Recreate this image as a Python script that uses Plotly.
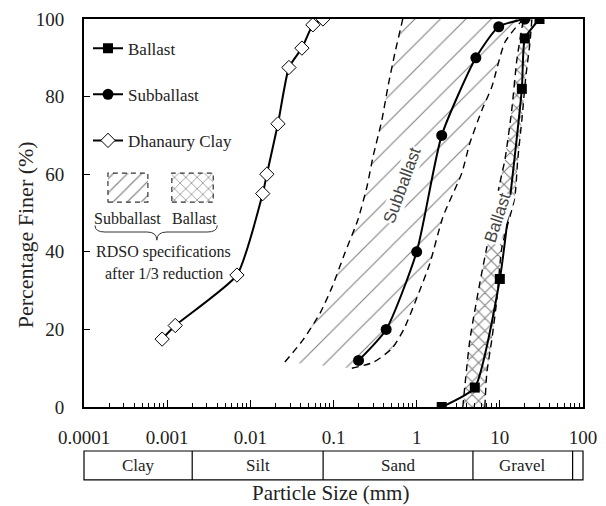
import numpy as np
import plotly.graph_objects as go

# ---------------- data ----------------
ballast_size = [2.0, 5.0, 10.0, 18.4, 20.0, 30.0]
ballast_finer = [0, 5, 33, 82, 95, 100]

subballast_size = [0.2, 0.43, 1.0, 2.0, 5.15, 9.7, 20.0]
subballast_finer = [12, 20, 40, 70, 90, 98, 100]

clay_size = [0.00087, 0.00125, 0.0069, 0.0141, 0.0158, 0.0215, 0.0291, 0.0417, 0.0565, 0.0747]
clay_finer = [17.5, 21, 34, 55, 60, 73, 87.5, 92.5, 98.5, 100]

# RDSO subballast band (after 1/3 reduction)
sub_fine_size = [0.026, 0.043, 0.069, 0.096, 0.137, 0.196, 0.252, 0.298, 0.382, 0.451, 0.547, 0.664, 0.68]
sub_fine_finer = [11.6, 17.3, 24.2, 30.9, 39.7, 48.2, 56.7, 64.4, 74, 82.5, 91.2, 99, 100]
sub_coarse_size = [0.166, 0.3, 0.5, 0.7, 1.0, 1.44, 2.07, 3.49, 4.36, 6.08, 8.0, 11.5, 17.4, 20.0]
sub_coarse_finer = [10, 11.5, 15, 20, 28, 37, 49, 60.3, 68, 76.5, 82.5, 94, 99, 100]

# RDSO ballast band (after 1/3 reduction)
bal_fine_size = [3.59, 3.79, 4.36, 5.75, 6.98, 10.0, 11.5, 13.9, 16.0, 18.9, 19.5]
bal_fine_finer = [0, 5.2, 17.3, 32, 41.2, 57.7, 63.7, 76.5, 89.4, 99, 100]
bal_coarse_size = [6.6, 6.98, 8.0, 9.2, 10.6, 15.1, 16.4, 18.4, 20.5, 23.0, 24.3]
bal_coarse_finer = [0, 8.8, 17.3, 27.6, 41.2, 54, 63.7, 74, 85, 93.8, 100]

tick_vals = [0.0001, 0.001, 0.01, 0.1, 1, 10, 100]
tick_text = ["0.0001", "0.001", "0.01", "0.1", "1", "10", "100"]
y_ticks = [0, 20, 40, 60, 80, 100]

class_names = ["Clay", "Silt", "Sand", "Gravel"]
class_bounds = [0.0001, 0.002, 0.075, 4.75, 75, 100]

SERIF = "Liberation Serif, Times New Roman, serif"
SANS = "Liberation Sans, Arial, sans-serif"


def xpaper(v):
    return (np.log10(v) + 4.0) / 6.0


def note(text, x, y, size, family=SERIF, color="#222", angle=0, yanchor="middle", bg=None):
    d = dict(text=text, xref="paper", yref="paper", x=x, y=y, xanchor="center", yanchor=yanchor,
             textangle=angle, showarrow=False, font=dict(family=family, size=size, color=color))
    if bg:
        d["bgcolor"] = bg
        d["borderpad"] = 0
    return d


fig = go.Figure()

# hatched bands
fig.add_trace(go.Scatter(
    x=sub_fine_size + sub_coarse_size[::-1], y=sub_fine_finer + sub_coarse_finer[::-1],
    mode="lines", fill="toself", line=dict(width=0, color="rgba(0,0,0,0)"),
    fillcolor="rgba(0,0,0,0)",
    fillpattern=dict(shape="/", size=18, solidity=0.06, fgcolor="#000", bgcolor="rgba(0,0,0,0)"),
    showlegend=False, hoverinfo="skip"))
fig.add_trace(go.Scatter(
    x=bal_fine_size + bal_coarse_size[::-1], y=bal_fine_finer + bal_coarse_finer[::-1],
    mode="lines", fill="toself", line=dict(width=0, color="rgba(0,0,0,0)"),
    fillcolor="rgba(0,0,0,0)",
    fillpattern=dict(shape="x", size=9, solidity=0.22, fgcolor="#000", bgcolor="rgba(0,0,0,0)"),
    showlegend=False, hoverinfo="skip"))

# dashed limits
for xs, ys in [(sub_fine_size, sub_fine_finer), (sub_coarse_size, sub_coarse_finer),
               (bal_fine_size, bal_fine_finer), (bal_coarse_size, bal_coarse_finer)]:
    fig.add_trace(go.Scatter(x=xs, y=ys, mode="lines",
                             line=dict(color="black", width=1.4, dash="7px,5px", shape="spline", smoothing=0.6),
                             showlegend=False, hoverinfo="skip"))

# measured curves
fig.add_trace(go.Scatter(x=ballast_size, y=ballast_finer, name="Ballast", mode="lines+markers",
                         line=dict(color="black", width=2, shape="spline", smoothing=0.5),
                         marker=dict(symbol="square", size=10, color="black"),
                         legendgroup="a"))
fig.add_trace(go.Scatter(x=subballast_size, y=subballast_finer, name="Subballast", mode="lines+markers",
                         line=dict(color="black", width=2, shape="spline", smoothing=0.6),
                         marker=dict(symbol="circle", size=11, color="black"),
                         legendgroup="b"))
fig.add_trace(go.Scatter(x=clay_size, y=clay_finer, name="Dhanaury Clay", mode="lines+markers",
                         line=dict(color="black", width=2, shape="spline", smoothing=0.5),
                         marker=dict(symbol="diamond", size=11, color="white", line=dict(color="black", width=1)),
                         legendgroup="c"))

# legend swatches for the RDSO bands (on a hidden overlay axis spanning the plot area)
sw = [(0.048, 0.128, "/", 10, 0.12), (0.176, 0.259, "x", 8, 0.18)]
for x0, x1, shp, sz, sol in sw:
    fig.add_trace(go.Scatter(
        x=[x0, x1, x1, x0, x0], y=[0.528, 0.528, 0.603, 0.603, 0.528], xaxis="x2", yaxis="y2",
        mode="lines", fill="toself", fillcolor="rgba(0,0,0,0)",
        line=dict(color="#333", width=1.2, dash="5px,4px"),
        fillpattern=dict(shape=shp, size=sz, solidity=sol, fgcolor="#111", bgcolor="rgba(0,0,0,0)"),
        showlegend=False, hoverinfo="skip"))

shapes = []
annotations = []

# classification box below the axis
yb0, yb1 = -0.1134, -0.188
shapes.append(dict(type="rect", xref="paper", yref="paper", x0=0, x1=1, y0=yb1, y1=yb0,
                   line=dict(color="black", width=1.2)))
for b in class_bounds[1:-1]:
    shapes.append(dict(type="line", xref="paper", yref="paper", x0=xpaper(b), x1=xpaper(b), y0=yb1, y1=yb0,
                       line=dict(color="black", width=1.2)))
for i, nm in enumerate(class_names):
    xc = (xpaper(class_bounds[i]) + xpaper(class_bounds[i + 1])) / 2
    annotations.append(note(nm, xc, (yb0 + yb1) / 2, 17))

annotations.append(note("Particle Size (mm)", 0.493, -0.2216, 21))
annotations.append(note("Percentage Finer (%)", -0.118, 0.443, 22, angle=-90))

# band labels
annotations.append(note("Subballast", 0.637, 0.572, 17, family=SANS, color="#444", angle=-70, bg="white"))
annotations.append(note("Ballast", 0.828, 0.487, 17, family=SANS, color="#444", angle=-72, bg="white"))

# swatch labels, brace, note
annotations.append(note("Subballast", 0.088, 0.487, 16))
annotations.append(note("Ballast", 0.222, 0.487, 16))
bx0, bx1, bxm = 0.022, 0.267, 0.146
yt, ym, yp = 0.468, 0.451, 0.430
path = (f"M{bx0},{yt} Q{bx0},{ym} {bx0+0.02},{ym} L{bxm-0.02},{ym} Q{bxm},{ym} {bxm},{yp} "
        f"Q{bxm},{ym} {bxm+0.02},{ym} L{bx1-0.02},{ym} Q{bx1},{ym} {bx1},{yt}")
shapes.append(dict(type="path", xref="paper", yref="paper", path=path, line=dict(color="#333", width=1)))
annotations.append(note("RDSO specifications", 0.160, 0.3995, 16))
annotations.append(note("after 1/3 reduction", 0.160, 0.345, 16))

minor_vals = [k * 10.0 ** d for d in range(-4, 2) for k in range(2, 10)]

fig.update_layout(
    width=606, height=506,
    margin=dict(l=84, r=23, t=19, b=99, autoexpand=False),
    paper_bgcolor="white", plot_bgcolor="white",
    shapes=shapes, annotations=annotations,
    showlegend=True,
    legend=dict(x=0.008, y=0.97, xanchor="left", yanchor="top", bgcolor="rgba(0,0,0,0)",
                font=dict(family=SERIF, size=17, color="#222"), tracegroupgap=21,
                traceorder="grouped", itemwidth=30),
    xaxis=dict(type="log", range=[-4, 2], tickmode="array", tickvals=tick_vals, ticktext=tick_text,
               ticks="inside", ticklen=7, tickwidth=1.2, tickcolor="black", automargin=False,
               showline=True, linewidth=2, linecolor="black", mirror=True,
               showgrid=False, zeroline=False, ticklabelstandoff=12,
               tickfont=dict(family=SERIF, size=19, color="#222"),
               minor=dict(tickvals=minor_vals, ticks="inside", ticklen=4, tickwidth=1, tickcolor="black",
                          showgrid=False)),
    yaxis=dict(range=[0, 100], tickmode="array", tickvals=y_ticks, automargin=False,
               ticks="inside", ticklen=6, tickwidth=1.2, tickcolor="black",
               showline=True, linewidth=2, linecolor="black", mirror=True,
               showgrid=False, zeroline=False, ticklabelstandoff=14,
               tickfont=dict(family=SERIF, size=19, color="#222")),
    xaxis2=dict(overlaying="x", range=[0, 1], visible=False, fixedrange=True, automargin=False),
    yaxis2=dict(overlaying="y", range=[0, 1], visible=False, fixedrange=True, automargin=False),
)

# remove the browser's default 8px page margin so the 606x506 figure fills the window exactly
fig.write_html("out.html", config={"displayModeBar": False},
               post_script="document.body.style.margin='0';document.body.style.overflow='hidden';")
